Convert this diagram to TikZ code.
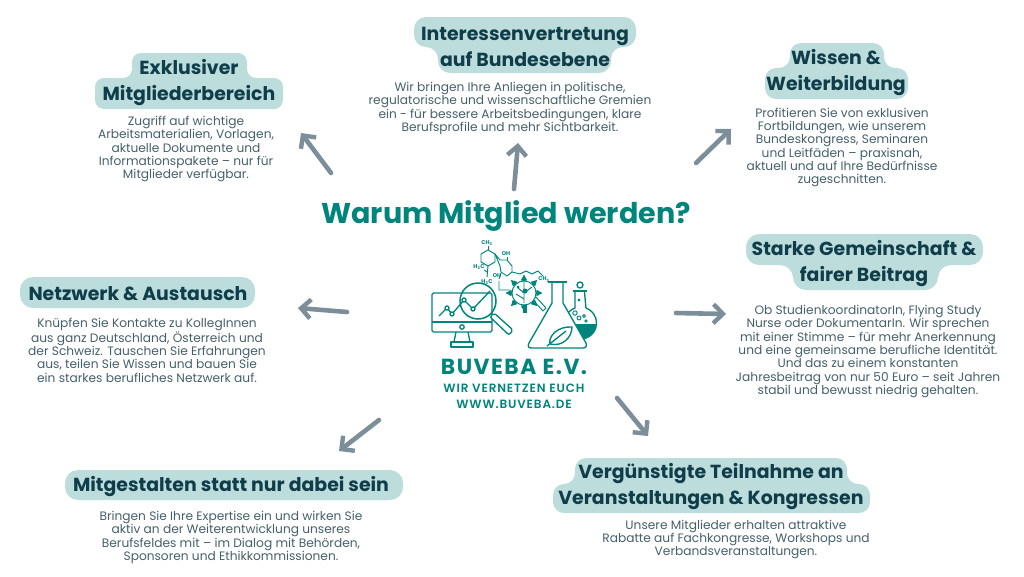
\documentclass[tikz,border=0pt]{standalone}
\usepackage{fontspec}
\setmainfont{Poppins}[BoldFont={Poppins Bold},FontFace={sb}{n}{Poppins SemiBold}]
\newfontfamily\spaced{Poppins Bold}[LetterSpace=7]
\newfontfamily\spacedb{Poppins SemiBold}[LetterSpace=7]
\usetikzlibrary{arrows.meta,calc}
\definecolor{pill}{HTML}{BDDDDD}
\definecolor{dark}{HTML}{0F3D4A}
\definecolor{bodyc}{HTML}{45606B}
\definecolor{teal}{HTML}{00857C}
\definecolor{arr}{HTML}{7C8E99}
\newcommand{\bodysz}{\fontsize{12.2}{13.33}\selectfont}
\tikzset{
 pillbox/.style={fill=pill,rounded corners=#1},
 pillbox/.default=11pt,
 head/.style={font=\fontsize{18.9}{26}\selectfont\bfseries,text=dark,align=center,inner sep=0pt},
 desc/.style={font=\bodysz,text=bodyc,align=center,inner sep=0pt},
 conn/.style={draw=arr,line width=4.6pt,line cap=round,-{Straight Barb[length=9.5pt,width=19pt,line width=4.4pt]}},
 logo/.style={draw=teal,line width=1.35pt,line join=round},
 thin/.style={draw=teal,line width=.95pt,line join=round},
 chem/.style={font=\fontsize{5.5}{6}\selectfont\bfseries,text=teal,inner sep=0pt},
}
\begin{document}
\begin{tikzpicture}[x=1pt,y=-1pt]
\useasboundingbox (0,0) rectangle (1024,576);
\fill[white] (0,0) rectangle (1024,576);
% pills
\fill[pillbox=9pt] (132,53) -- (247,53) -- (247,78) -- (283,78) -- (283,109) -- (95,109) -- (95,78) -- (132,78) -- cycle;
\fill[pillbox=12pt] (414,17) -- (636,17) -- (636,47) -- (611,47) -- (611,73) -- (438,73) -- (438,47) -- (414,47) -- cycle;
\fill[pillbox=11pt] (790,43) -- (884,43) -- (884,68) -- (908,68) -- (908,99) -- (765,99) -- (765,68) -- (790,68) -- cycle;
\fill[pillbox=13pt] (746,234) -- (983,234) -- (983,265) -- (938,265) -- (938,290) -- (793,290) -- (793,265) -- (746,265) -- cycle;
\fill[pillbox=13pt] (20,277) rectangle (255,308);
\fill[pillbox=13pt] (65,470) rectangle (403,500);
\fill[pillbox=11pt] (575,458) -- (847,458) -- (847,484) -- (870,484) -- (870,513) -- (553,513) -- (553,484) -- (575,484) -- cycle;
% headings
\node[head] (h1) at (189,83) {Exklusiver\\Mitgliederbereich};
\node[head] (h2) at (525,47) {Interessenvertretung\\auf Bundesebene};
\node[head] (h3) at (836,73) {Wissen \&\\Weiterbildung};
\node[head] (h4) at (864,264) {Starke Gemeinschaft \&\\fairer Beitrag};
\node[head] (h5) at (138,294) {Netzwerk \& Austausch};
\node[head] (h6) at (231,486.5) {Mitgestalten statt nur dabei sein};
\node[head] (h7) at (711,487) {Vergünstigte Teilnahme an\\Veranstaltungen \& Kongressen};
% descriptions
\node[desc] (d1) at (186,149) {Zugriff auf wichtige\\Arbeitsmaterialien, Vorlagen,\\aktuelle Dokumente und\\Informationspakete – nur für\\Mitglieder verfügbar.};
\node[desc] (d2) at (510,108.5) {Wir bringen Ihre Anliegen in politische,\\regulatorische und wissenschaftliche Gremien\\ein - für bessere Arbeitsbedingungen, klare\\Berufsprofile und mehr Sichtbarkeit.};
\node[desc] (d3) at (842,147.5) {Profitieren Sie von exklusiven\\Fortbildungen, wie unserem\\Bundeskongress, Seminaren\\und Leitfäden – praxisnah,\\aktuell und auf Ihre Bedürfnisse\\zugeschnitten.};
\node[desc] (d4) at (868,351.5) {Ob StudienkoordinatorIn, Flying Study\\Nurse oder DokumentarIn. Wir sprechen\\mit einer Stimme – für mehr Anerkennung\\und eine gemeinsame berufliche Identität.\\Und das zu einem konstanten\\Jahresbeitrag von nur 50 Euro – seit Jahren\\stabil und bewusst niedrig gehalten.};
\node[desc] (d5) at (147,350) {Knüpfen Sie Kontakte zu KollegInnen\\aus ganz Deutschland, Österreich und\\der Schweiz. Tauschen Sie Erfahrungen\\aus, teilen Sie Wissen und bauen Sie\\ein starkes berufliches Netzwerk auf.};
\node[desc] (d6) at (231,537.5) {Bringen Sie Ihre Expertise ein und wirken Sie\\aktiv an der Weiterentwicklung unseres\\Berufsfeldes mit – im Dialog mit Behörden,\\Sponsoren und Ethikkommissionen.};
\node[desc] (d7) at (736,539.5) {Unsere Mitglieder erhalten attraktive\\Rabatte auf Fachkongresse, Workshops und\\Verbandsveranstaltungen.};
% centre title
\node[font=\fontsize{28.6}{32}\selectfont\bfseries,text=teal,inner sep=0pt] (title) at (506,216) {Warum Mitglied werden?};
\node[font=\fontsize{21.8}{24}\selectfont\spaced,text=teal,inner sep=0pt] (brand) at (514,367) {BUVEBA E.V.};
\node[font=\fontsize{12}{15.5}\selectfont\spacedb,text=teal,align=center,inner sep=0pt] (tag) at (514,396.5) {WIR VERNETZEN EUCH\\WWW.BUVEBA.DE};
% connectors
\coordinate (a1s) at (331,173); \coordinate (a1e) at (301,133);
\coordinate (a2s) at (514,189); \coordinate (a2e) at (518,143);
\coordinate (a3s) at (696,163); \coordinate (a3e) at (731,129);
\coordinate (a4s) at (676,313); \coordinate (a4e) at (726,314);
\coordinate (a5s) at (617,398); \coordinate (a5e) at (648,436);
\coordinate (a6s) at (379,420); \coordinate (a6e) at (339,451);
\coordinate (a7s) at (347,312); \coordinate (a7e) at (298,308);
\foreach \i in {1,...,7} \draw[conn] (a\i s) -- (a\i e);
% monitor
\draw[logo,rounded corners=1.5pt] (432,293) rectangle (492,332);
\draw[logo] (432,322) -- (492,322);
\draw[logo] (456,332) -- (454,342) (468,332) -- (470,342);
\draw[logo] (451,342) rectangle (473,347);
\draw[logo,fill=white] (462,327) circle (2.2);
% chart line
\draw[logo] (439,316) -- (447,308) -- (452,314) -- (464,300) -- (473,309) -- (490,291);
\foreach \p in {(447,308),(452,314),(464,300),(473,309)} \draw[logo,fill=white] \p circle (2);
% magnifier
\draw[logo,line width=1.5pt] (478,301) circle (18);
\draw[logo,fill=white,rounded corners=2pt] (490,317) -- (494,313) -- (513,330) -- (509,335) -- cycle;
% molecule
\draw[thin] (481,254) -- (488,250) -- (495,254) -- (495,262) -- (488,266) -- (481,262) -- cycle;
\draw[thin] (488,250) -- (488,246);
\draw[thin] (495,254) -- (500,260) -- (507,260) -- (512,266) -- (512,272) -- (507,276) -- (501,272) -- (500,266) -- cycle;
\draw[thin] (507,260) -- (507,257);
\draw[thin] (512,272) -- (520,274) -- (526,271) -- (532,274) -- (538,271) -- (543,276);
\draw[thin] (488,266) -- (487,277);
\draw[thin] (484,270) -- (487,272);
\draw[thin] (501,273) -- (499,279) (499,281) -- (499,290) -- (510,290);
\node[chem] (c1) at (487,243) {CH\textsubscript{3}};
\node[chem] (c2) at (506,254) {OH};
\node[chem] (c3) at (479,267) {H\textsubscript{3}C};
\node[chem] (c4) at (487,282) {H\textsubscript{3}C};
\node[chem] (c5) at (497,276) {OH};
\node[chem] (c6) at (544,279.5) {CH\textsubscript{3}};
% gear with leaf
\draw[thin,fill=white] (533,300) -- (536,297) -- (546,308) -- (543,311) -- cycle;
\foreach \a in {0,45,...,315} \fill[teal] ($(524,293)+(\a:12)$) -- ($(524,293)+(\a+14:13)$) -- ($(524,293)+(\a:18.5)$) -- ($(524,293)+(\a-14:13)$) -- cycle;
\fill[teal] (523,305) rectangle (527,313);
\draw[thin,fill=white] (524,293) circle (12);
\draw[thin] (524,282) -- (524,303) (524,293) -- (517,287) (524,293) -- (532,287) (524,299) -- (516,294);
\fill[teal] (525,291) circle (2.5) (518,287) circle (1.5);
% round flask
\fill[white] (580,323) circle (16);
\begin{scope}
\clip (564,324) rectangle (597,340);
\fill[teal] (580,323) circle (16);
\end{scope}
\draw[logo] (575,292) -- (575,308) arc[start angle=-110,end angle=-430,radius=16] -- (584.5,292);
\draw[logo,fill=white] (580,285) circle (3);
\draw[logo] (573,291) -- (587,291);
\draw[thin] (575,313) circle (2.2) (579,318) circle (2) (584,316) circle (1.5) (586,321) circle (1.3) (579,300) circle (1);
% flask
\draw[logo,fill=white] (552,282) -- (552,303) -- (529,343) .. controls (527,347) and (529,348) .. (532,348) -- (583,348) .. controls (586,348) and (587,346) .. (586,343) -- (563,303) -- (563,282) -- cycle;
\draw[logo,line width=2pt] (548,282) -- (567,282);
\draw[logo] (550,344) .. controls (548,336) and (558,326) .. (572,327) .. controls (572,337) and (563,347) .. (550,344) -- cycle;
\draw[logo] (547,346) -- (566,331);
\end{tikzpicture}
\end{document}
